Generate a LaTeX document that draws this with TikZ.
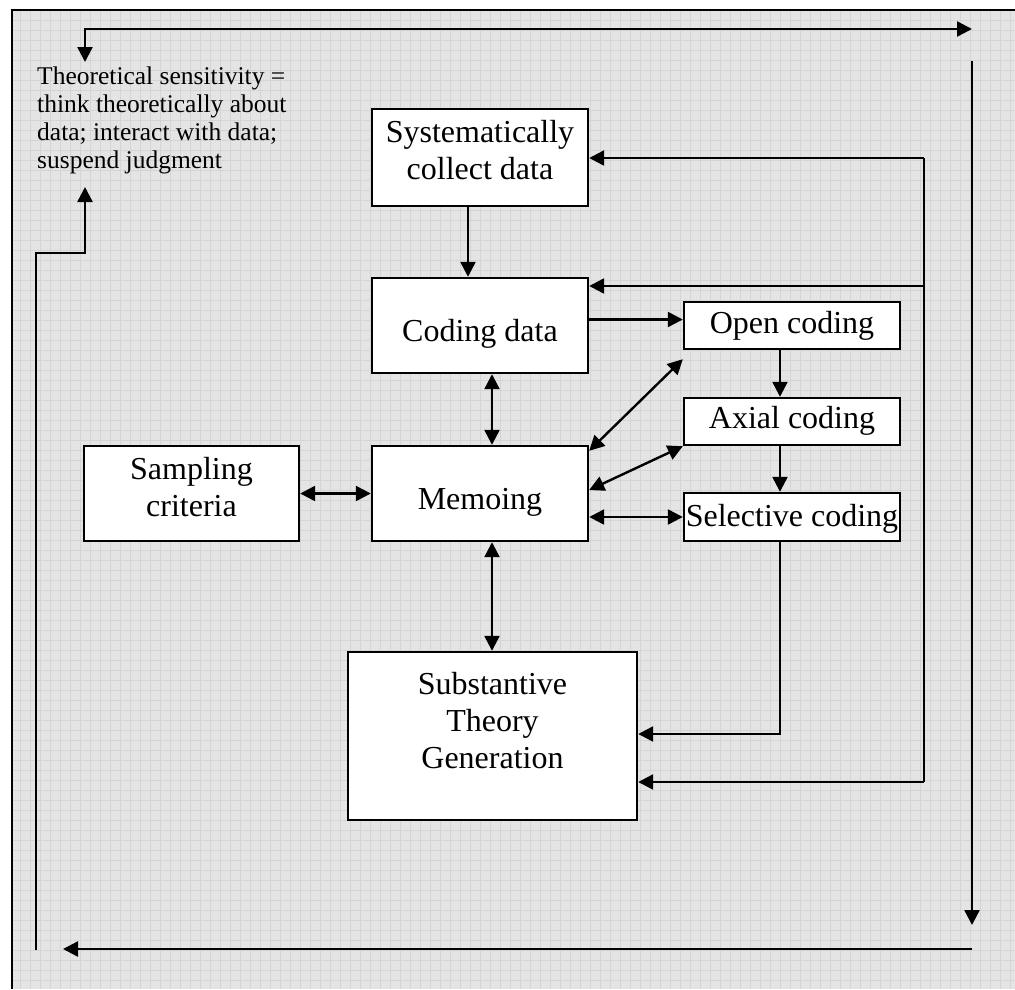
\documentclass[tikz,border=0pt]{standalone}
\usepackage{fontspec}
\setmainfont{Liberation Serif}
\usetikzlibrary{arrows.meta}
\definecolor{bgcol}{RGB}{228,228,228}
\definecolor{gridcol}{RGB}{212,212,212}
\tikzset{
  boxshape/.style={draw=black, fill=white, line width=2.4pt, rectangle, inner sep=0pt},
  boxtext/.style={font=\fontsize{32}{37}\selectfont, align=center, inner sep=0pt},
  sidetext/.style={font=\fontsize{25.5}{28}\selectfont, align=left, inner sep=0pt, anchor=north west},
  conn/.style={line width=2.4pt, draw=black},
  arr/.style={conn, -{Triangle[length=15pt,width=15pt]}},
  dbl/.style={conn, {Triangle[length=15pt,width=15pt]}-{Triangle[length=15pt,width=15pt]}},
}
\begin{document}
\begin{tikzpicture}[x=1pt,y=-1pt]
\useasboundingbox (0,0) rectangle (1015,989);
\fill[white] (0,0) rectangle (1015,989);
\fill[bgcol] (12,10) rectangle (1015,989);
\foreach \gx in {20,30,...,1010} \draw[gridcol, line width=0.8pt] (\gx,10) -- (\gx,989);
\foreach \gy in {20,30,...,980} \draw[gridcol, line width=0.8pt] (12,\gy) -- (1015,\gy);
\draw[line width=2pt] (12,989) -- (12,10) -- (1015,10);

% boxes
\node[boxshape, minimum width=216pt, minimum height=97pt] (sys) at (480,157.5) {};
\node[boxtext] (sysT) at (480,150) {Systematically\\collect data};
\node[boxshape, minimum width=216pt, minimum height=95pt] (coding) at (480,325.5) {};
\node[boxtext] (codingT) at (480,334) {Coding data};
\node[boxshape, minimum width=216pt, minimum height=95pt] (memo) at (480,493.5) {};
\node[boxtext] (memoT) at (480,502) {Memoing};
\node[boxshape, minimum width=215pt, minimum height=95pt] (samp) at (191.5,493.5) {};
\node[boxtext] (sampT) at (191.5,487) {Sampling\\criteria};
\node[boxshape, minimum width=216pt, minimum height=47pt] (open) at (792,325.5) {};
\node[boxtext] (openT) at (792,326) {Open coding};
\node[boxshape, minimum width=216pt, minimum height=47pt] (axial) at (792,421.5) {};
\node[boxtext] (axialT) at (792,421) {Axial coding};
\node[boxshape, minimum width=216pt, minimum height=48pt] (sel) at (792,517) {};
\node[boxtext] (selT) at (792,519) {Selective coding};
\node[boxshape, minimum width=289pt, minimum height=168pt] (subst) at (492.5,736) {};
\node[boxtext] (substT) at (492.5,721) {Substantive\\Theory\\Generation};

\node[sidetext] (ts) at (37,67) {Theoretical sensitivity =\\think theoretically about\\data; interact with data;\\suspend judgment};

% inner connectors
\draw[arr] ([xshift=-12pt]sys.south) -- ([xshift=-12pt]coding.north);
\draw[dbl] ([xshift=12pt]coding.south) -- ([xshift=12pt]memo.north);
\draw[dbl] ([xshift=12pt]memo.south) -- ([xshift=12pt]memo.south |- subst.north);
\draw[dbl] (samp.east) -- (memo.west);
\draw[arr] ([yshift=6pt]coding.east) -- ([yshift=6pt]coding.east -| open.west);
\draw[arr] ([xshift=-12pt]open.south) -- ([xshift=-12pt]axial.north);
\draw[arr] ([xshift=-12pt]axial.south) -- ([xshift=-12pt]sel.north);
\draw[dbl] (memo.east |- sel.west) -- (sel.west);
\draw[dbl] ([yshift=-6pt]memo.north east) -- ([yshift=-9pt]open.south west);
\draw[dbl] ([yshift=3.5pt]memo.east) -- (axial.south west);
\draw[arr] ([xshift=-12pt]sel.south) |- ([yshift=2pt]subst.east);

% feedback line
\coordinate (fbTop) at (924,158);
\coordinate (fbMid) at (924,286);
\coordinate (fbBot) at (924,782);
\draw[conn] (fbTop) -- (fbBot);
\draw[arr] (fbTop) -- (fbTop -| sys.east);
\draw[arr] (fbMid) -- (fbMid -| coding.east);
\draw[arr] (fbBot) -- (fbBot -| subst.east);

% outer loop
\coordinate (tA) at (85,62);
\coordinate (tB) at (85,29);
\coordinate (tC) at (972,29);
\draw[dbl] (tA) -- (tB) -- (tC);
\coordinate (rA) at (972,61);
\coordinate (rB) at (972,925);
\draw[arr] (rA) -- (rB);
\coordinate (bA) at (972,949);
\coordinate (bB) at (63,949);
\draw[arr] (bA) -- (bB);
\coordinate (lA) at (36,950);
\coordinate (lB) at (36,253);
\coordinate (lC) at (85,253);
\coordinate (lD) at (85,187);
\draw[arr] (lA) -- (lB) -- (lC) -- (lD);
\end{tikzpicture}
\end{document}
